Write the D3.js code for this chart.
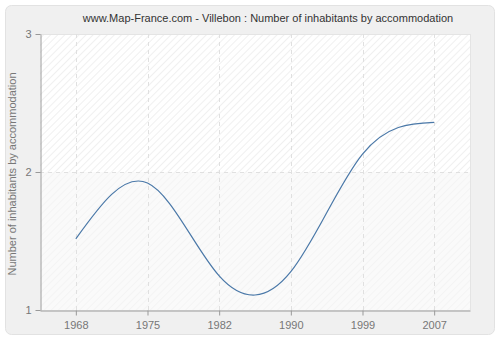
<!doctype html>
<html>
<head>
<meta charset="UTF-8">
<title>Villebon</title>
<script src="https://d3js.org/d3.v7.min.js"></script>
<style>
  body { margin: 0; background: #fff; }
  text { font-family: "Liberation Sans", Arial, sans-serif; }
</style>
</head>
<body>
<svg id="chart" width="500" height="340"></svg>
<script>
var years = ["1968", "1975", "1982", "1990", "1999", "2007"];
var values = [1.516, 1.92, 1.247, 1.278, 2.13, 2.36];
var yTicks = [1, 2, 3];

var W = 500, H = 340;
var m = {left: 40, right: 30, top: 34, bottom: 30};
var svg = d3.select("#chart");

// outer frame
svg.append("rect").attr("x", 5.5).attr("y", 5.5).attr("width", 489).attr("height", 329)
  .attr("rx", 6).attr("fill", "#f0f0f0").attr("stroke", "#e2e2e2");

var x = d3.scalePoint().domain(years).range([m.left, W - m.right]).padding(0.5);
var y = d3.scaleLinear().domain([1, 3]).range([H - m.bottom, m.top]);

// hatch patterns
var defs = svg.append("defs");
function hatch(id, bg, fg) {
  var p = defs.append("pattern").attr("id", id).attr("patternUnits", "userSpaceOnUse")
    .attr("width", 5).attr("height", 5).attr("patternTransform", "rotate(45)");
  p.append("rect").attr("width", 5).attr("height", 5).attr("fill", bg);
  p.append("line").attr("x1", 0).attr("y1", 0).attr("x2", 0).attr("y2", 5)
    .attr("stroke", fg).attr("stroke-width", 1.5);
}
hatch("h1", "#ffffff", "#ececec");
hatch("h2", "#fafafa", "#f2f2f2");

svg.append("rect").attr("x", m.left).attr("y", y(3)).attr("width", W - m.right - m.left)
  .attr("height", y(2) - y(3)).attr("fill", "url(#h1)");
svg.append("rect").attr("x", m.left).attr("y", y(2)).attr("width", W - m.right - m.left)
  .attr("height", y(1) - y(2)).attr("fill", "url(#h2)");
svg.append("line").attr("x1", W - m.right + 0.5).attr("x2", W - m.right + 0.5)
  .attr("y1", m.top).attr("y2", H - m.bottom).attr("stroke", "#e4e4e4");
svg.append("line").attr("x1", m.left).attr("x2", W - m.right)
  .attr("y1", m.top + 0.5).attr("y2", m.top + 0.5).attr("stroke", "#e4e4e4");

// grid
svg.append("g").selectAll("line").data(years).enter().append("line")
  .attr("x1", function(d){ return Math.round(x(d)) + 0.5; })
  .attr("x2", function(d){ return Math.round(x(d)) + 0.5; })
  .attr("y1", m.top).attr("y2", H - m.bottom)
  .attr("stroke", "#e0e0e0").attr("stroke-dasharray", "4,4");
svg.append("g").selectAll("line").data([2]).enter().append("line")
  .attr("x1", m.left).attr("x2", W - m.right)
  .attr("y1", function(d){ return Math.round(y(d)) + 0.5; })
  .attr("y2", function(d){ return Math.round(y(d)) + 0.5; })
  .attr("stroke", "#e0e0e0").attr("stroke-dasharray", "4,4");

// axes
var xAxis = svg.append("g").attr("transform", "translate(0," + (H - m.bottom + 0.5) + ")")
  .call(d3.axisBottom(x).tickSize(5).tickSizeOuter(0).tickPadding(6));
var yAxis = svg.append("g").attr("transform", "translate(" + (m.left + 0.5) + ",0)")
  .call(d3.axisLeft(y).tickValues(yTicks).tickFormat(d3.format("d")).tickSize(5).tickSizeOuter(0).tickPadding(4));
[xAxis, yAxis].forEach(function(a){
  a.select(".domain").attr("stroke", "#999");
  a.selectAll(".tick line").attr("stroke", "#999");
  a.selectAll("text").attr("fill", "#777").attr("font-size", 11)
    .style("font-family", "Liberation Sans, Arial, sans-serif");
});

// smooth line
var line = d3.line()
  .x(function(d, i){ return x(years[i]); })
  .y(function(d){ return y(d); })
  .curve(d3.curveNatural);
svg.append("path").datum(values).attr("d", line).attr("fill", "none")
  .attr("stroke", "#4a78a8").attr("stroke-width", 1.2);

// title and y label
svg.append("text").attr("x", 268).attr("y", 22).attr("text-anchor", "middle")
  .attr("font-size", 11).attr("fill", "#333")
  .text("www.Map-France.com - Villebon : Number of inhabitants by accommodation");
svg.append("text").attr("transform", "translate(16,174) rotate(-90)")
  .attr("text-anchor", "middle").attr("font-size", 11).attr("fill", "#777")
  .text("Number of inhabitants by accommodation");
</script>
</body>
</html>
